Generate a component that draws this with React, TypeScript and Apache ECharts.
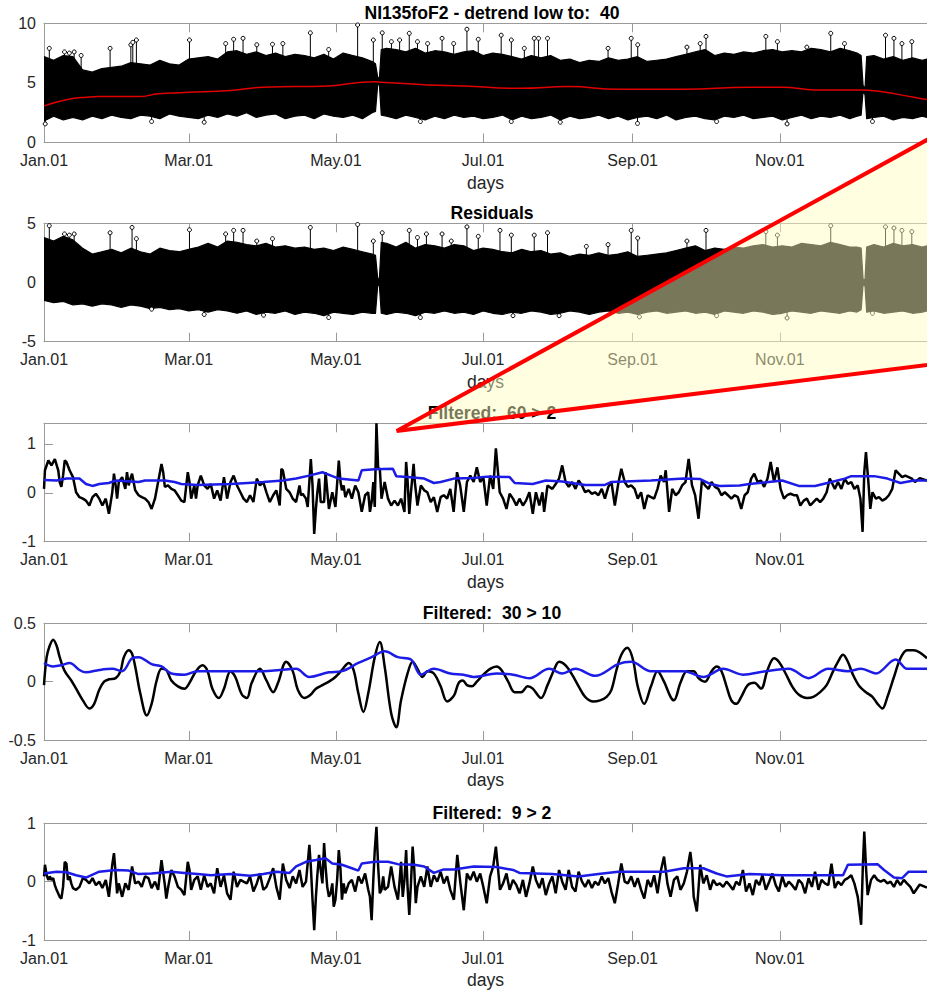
import React, { useEffect, useRef } from 'react';
import * as echarts from 'echarts';

// ---------- data (day of year, leap year) ----------
const MONTH_TICKS = [0, 60, 121, 182, 244, 305];
const MONTH_LABELS = ['Jan.01', 'Mar.01', 'May.01', 'Jul.01', 'Sep.01', 'Nov.01'];

const TITLES = [
  'NI135foF2 - detrend low to:  40',
  'Residuals',
  'Filtered:  60 > 2',
  'Filtered:  30 > 10',
  'Filtered:  9 > 2',
];
const Y_RANGES = [[0, 10], [-5, 5], [-1, 1.42], [-0.5, 0.5], [-1, 1]];
const Y_TICKS = [[0, 5, 10], [-5, 0, 5], [-1, 0, 1], [-0.5, 0, 0.5], [-1, 0, 1]];

// hourly foF2: envelope of the dense trace [day, low, high]
const p1Env = [
  [0,1.8,7.2],[4,2.2,6.9],[8,1.9,7.3],[12,2.1,7.2],[16,1.9,6.1],[20,2.2,5.9],[24,2.0,6.2],[28,2.3,6.3],[32,2.1,6.4],[36,2.0,6.7],[40,2.3,6.6],[44,2.2,6.5],[48,2.0,6.9],[52,2.4,6.6],[56,2.2,6.5],[60,2.1,7.0],[64,2.0,7.1],[68,2.3,7.2],[72,2.1,7.0],[76,2.4,7.6],[80,2.2,7.7],[84,2.5,7.4],[88,2.1,7.6],[92,2.3,7.3],[96,2.4,7.5],[100,2.0,7.2],[104,2.2,7.4],[108,2.3,7.3],[112,2.0,7.1],[116,2.4,7.4],[120,2.2,7.0],[124,2.1,7.5],[128,2.3,7.3],[132,2.0,7.1],[136,2.5,6.8],[137.4,2.6,6.6],[138.3,4.8,5.5],[139.0,4.9,5.3],[139.8,2.3,7.8],[142,2.2,7.9],[146,2.0,7.8],[150,2.3,7.6],[154,2.1,7.9],[158,1.9,7.5],[162,2.2,7.7],[166,2.0,7.6],[170,2.3,7.4],[174,2.1,7.6],[178,2.2,7.7],[182,2.0,7.3],[186,2.1,7.5],[190,2.3,7.4],[194,1.9,7.2],[198,2.2,7.0],[202,2.0,7.3],[206,2.1,7.1],[210,2.3,7.3],[214,1.9,6.9],[218,2.2,7.0],[222,2.0,6.7],[226,2.1,6.9],[230,2.3,6.8],[234,2.0,7.1],[238,2.2,6.9],[242,1.9,7.0],[246,2.1,7.2],[250,2.2,6.8],[254,2.0,6.9],[258,2.3,7.0],[262,1.9,7.2],[266,2.1,7.4],[270,2.2,7.6],[274,2.0,7.8],[278,1.9,7.3],[282,2.2,7.5],[286,2.1,7.4],[290,2.3,7.6],[294,2.0,7.5],[298,2.1,7.7],[302,2.2,7.8],[306,1.9,7.6],[310,2.1,7.7],[314,2.3,7.6],[318,2.0,7.9],[322,2.2,7.8],[326,2.1,7.6],[330,2.3,7.9],[334,2.0,7.7],[337,2.2,7.5],[338.7,2.3,7.3],[339.5,4.3,4.8],[340.3,4.0,4.5],[341,2.0,7.2],[344,2.1,7.3],[348,2.2,7.0],[352,1.9,7.2],[356,2.1,6.9],[360,2.0,7.1],[364,2.2,6.9],[366,2.1,7.0],
];
const p1Spikes = [
  [2.2,7.9],[8.5,7.6],[10.5,7.5],[12.5,7.6],[15.4,7.3],[27.4,7.9],[36.0,8.2],[36.8,8.4],[38.3,8.6],[60.3,8.6],[75.3,8.3],[78.6,8.66],[82.5,8.74],[88.2,8.2],[94.7,8.24],[99,8.3],[110.4,9.2],[118,7.8],[130,9.86],[136.5,8.6],[140.2,9.2],[144,8.46],[147.4,8.6],[151.4,9.16],[154.8,8.46],[159,8.3],[165,8.74],[169.8,8.3],[175.3,9.5],[180,8.66],[189.5,9.0],[193.7,8.6],[199.1,7.9],[203.2,8.74],[205,8.74],[208.7,8.74],[233.8,7.9],[243.4,8.74],[246.1,8.2],[266.5,8.0],[272,8.3],[274.4,8.9],[299.2,8.9],[304,8.46],[316.2,8.0],[326.1,9.16],[331.8,8.3],[348.8,9.0],[352.3,8.74],[355.6,8.3],[359.7,8.46],
];
const p1Dips = [
  [0.5,1.56],[44.6,1.76],[66.4,1.7],[156,1.76],[193.7,1.76],[214,1.7],[246,1.6],[278.8,1.76],[308,1.56],[343.4,1.76],
];
const p1Trend = [
  [0,3.07],[9.3,3.58],[17.4,3.8],[22.9,3.85],[39.2,3.85],[47.4,4.08],[58.3,4.19],[77.3,4.36],[90.9,4.64],[118.1,4.75],[131.8,5.06],[137.2,5.1],[139.9,5.06],[159,4.83],[174,4.75],[197,4.55],[217.6,4.69],[238,4.47],[265,4.47],[292.4,4.64],[306,4.64],[319.7,4.41],[338.5,4.41],[346.7,4.27],[360.5,3.8],[366,3.6],
];

// residuals envelope [day, low, high]
const p2Env = [
  [0,-1.5,3.8],[4,-1.7,3.5],[8,-1.6,3.9],[12,-1.9,3.6],[16,-1.8,2.9],[20,-2.0,2.4],[24,-1.8,2.6],[28,-1.9,2.8],[32,-2.1,2.5],[36,-1.9,2.9],[40,-2.0,2.6],[44,-2.2,2.4],[48,-2.1,2.9],[52,-2.3,2.7],[56,-2.2,2.6],[60,-2.4,2.8],[64,-2.3,3.0],[68,-2.5,3.3],[72,-2.3,3.0],[76,-2.4,3.5],[80,-2.6,3.4],[84,-2.4,3.2],[88,-2.7,3.1],[92,-2.5,3.3],[96,-2.6,3.0],[100,-2.4,3.1],[104,-2.7,2.9],[108,-2.5,3.0],[112,-2.6,2.8],[116,-2.8,2.9],[120,-2.5,2.7],[124,-2.6,3.0],[128,-2.7,2.8],[132,-2.5,2.6],[136,-2.6,2.4],[137.4,-2.6,2.3],[138.3,-0.3,0.4],[139.0,-0.2,0.2],[139.8,-2.6,3.4],[142,-2.7,3.3],[146,-2.5,3.0],[150,-2.6,3.4],[154,-2.8,2.9],[158,-2.5,3.2],[162,-2.6,3.1],[166,-2.4,2.9],[170,-2.6,3.2],[174,-2.5,3.1],[178,-2.7,2.7],[182,-2.4,2.9],[186,-2.6,2.8],[190,-2.7,2.6],[194,-2.5,2.5],[198,-2.6,2.8],[202,-2.4,2.6],[206,-2.5,2.7],[210,-2.7,2.4],[214,-2.6,2.5],[218,-2.4,2.2],[222,-2.5,2.4],[226,-2.7,2.3],[230,-2.5,2.5],[234,-2.4,2.3],[238,-2.6,2.4],[242,-2.5,2.6],[246,-2.7,2.2],[250,-2.5,2.3],[254,-2.4,2.4],[258,-2.6,2.5],[262,-2.5,2.7],[266,-2.4,2.9],[270,-2.6,3.1],[274,-2.5,2.7],[278,-2.7,2.9],[282,-2.4,2.8],[286,-2.5,3.0],[290,-2.6,2.9],[294,-2.4,3.1],[298,-2.5,3.2],[302,-2.7,3.0],[306,-2.6,3.1],[310,-2.4,3.0],[314,-2.5,3.3],[318,-2.6,3.2],[322,-2.4,3.1],[326,-2.5,3.4],[330,-2.6,3.2],[334,-2.4,3.0],[337,-2.5,3.0],[338.7,-2.3,2.9],[339.5,-0.2,0.3],[340.3,-0.3,0.2],[341,-2.5,3.0],[344,-2.4,3.2],[348,-2.6,3.0],[352,-2.5,3.3],[356,-2.4,3.1],[360,-2.6,3.2],[364,-2.5,3.0],[366,-2.4,3.1],
];
const p2Spikes = [
  [2.2,4.8],[8.5,4.1],[10.5,4.0],[12.5,4.1],[27.4,4.2],[36.5,4.65],[38.3,3.7],[60.3,4.45],[75.3,4.1],[78.6,4.4],[82.5,4.4],[88.2,3.5],[94.7,3.7],[110.4,4.65],[130,4.9],[136.5,3.5],[140.2,4.2],[151.4,4.4],[154.8,3.8],[158.5,4.1],[165,4.1],[168.8,3.5],[175.3,4.7],[180,3.9],[189,4.4],[193.7,4.0],[203.2,4.0],[208.7,4.2],[224.8,3.05],[233.8,3.2],[243.4,4.4],[246.1,3.75],[266.5,3.5],[274.4,4.4],[299.2,4.3],[304,4.0],[326.1,4.8],[348.8,4.7],[352.3,4.6],[355.6,4.4],[359.7,4.3],
];
const p2Dips = [
  [44.6,-2.25],[66.4,-2.7],[91,-2.76],[118,-2.96],[156,-2.96],[194.4,-2.8],[213.5,-2.8],[246.8,-2.9],[278.8,-2.8],[308,-3.0],[343.4,-2.6],
];

// Filtered 60 > 2
const f60Black = [
  [0,0.08],[0.4,0.46],[1.8,0.66],[3.1,0.56],[4.5,0.69],[5.9,0.46],[6.5,0.22],[7.2,0.12],[7.9,0.35],[8.6,0.66],[9.3,0.63],[10.6,0.46],[12.0,0.32],[13.3,0.01],[14.7,-0.09],[16.1,-0.12],[17.4,-0.16],[18.8,-0.26],[20.1,-0.09],[21.5,-0.02],[22.9,-0.12],[24.2,-0.26],[25.6,-0.12],[26.9,-0.43],[28.3,0.01],[29.0,0.39],[29.7,0.15],[30.3,-0.12],[31.0,0.22],[32.4,0.32],[33.7,0.08],[34.4,0.42],[35.1,0.15],[35.8,0.29],[36.5,0.39],[37.8,0.05],[39.2,-0.05],[40.5,-0.09],[41.9,-0.12],[43.3,-0.19],[44.6,-0.33],[46.0,-0.12],[47.3,0.22],[48.7,0.59],[49.4,0.42],[50.1,0.12],[51.4,0.15],[52.8,0.08],[54.1,0.05],[55.5,-0.05],[56.9,-0.16],[58.2,-0.19],[59.6,0.42],[60.3,0.22],[61.0,-0.12],[62.3,0.15],[63.0,-0.12],[63.7,0.15],[65.0,0.35],[66.4,0.15],[67.8,0.08],[69.1,0.18],[70.5,-0.12],[71.8,0.05],[73.2,-0.16],[74.6,0.32],[75.9,-0.12],[77.3,0.22],[78.6,0.35],[80.0,0.15],[81.4,0.01],[82.7,-0.12],[84.1,-0.19],[85.4,-0.05],[86.8,-0.19],[88.2,0.29],[89.5,0.15],[90.9,0.22],[92.2,0.01],[93.6,-0.19],[95.0,-0.05],[96.3,0.05],[97.7,-0.26],[98.4,0.49],[99.0,0.46],[100.4,0.08],[101.8,0.01],[103.1,-0.12],[104.5,-0.19],[105.9,0.15],[106.5,-0.05],[107.2,-0.02],[108.6,-0.12],[109.3,-0.29],[110.6,0.69],[111.3,0.15],[112.0,-0.84],[112.7,-0.33],[113.3,0.01],[114.0,0.29],[114.7,-0.19],[116.1,-0.19],[116.7,0.42],[118.1,-0.33],[119.5,0.01],[120.8,-0.29],[122.2,0.66],[122.9,0.22],[123.5,0.05],[124.2,0.15],[124.9,-0.09],[126.3,0.08],[127.6,-0.12],[129.0,0.15],[130.3,0.01],[131.7,-0.39],[133.1,-0.05],[134.4,0.01],[135.1,-0.39],[135.8,-0.19],[136.5,0.22],[137.1,-0.29],[137.8,1.42],[138.5,0.5],[139.2,0.49],[139.9,-0.12],[141.2,0.22],[142.6,-0.12],[143.9,-0.26],[145.3,-0.16],[146.7,-0.26],[148.0,-0.12],[149.4,-0.39],[150.1,0.63],[150.7,0.25],[151.4,-0.43],[152.1,0.01],[153.2,0.59],[153.7,0.22],[154.8,-0.26],[156.2,0.15],[157.6,0.05],[158.9,0.01],[160.3,-0.19],[161.6,-0.09],[163.0,-0.39],[164.4,-0.09],[165.7,-0.05],[167.1,-0.12],[168.4,0.08],[169.8,-0.39],[171.2,0.42],[172.5,0.15],[174.0,-0.39],[175.3,0.22],[176.7,0.35],[178.1,0.22],[179.4,0.52],[180.8,0.22],[182.1,0.32],[183.5,-0.26],[184.9,0.35],[186.2,0.08],[187.3,0.91],[188.3,0.35],[188.9,0.01],[190.3,-0.12],[191.7,-0.33],[193.0,-0.02],[194.4,-0.12],[195.8,-0.26],[197.1,-0.12],[198.5,-0.26],[199.8,-0.16],[201.2,0.01],[202.6,-0.43],[203.9,0.01],[205.3,-0.26],[206.6,0.01],[207.3,-0.39],[208.7,0.15],[210.7,0.08],[212.1,0.18],[213.5,0.29],[214.8,0.56],[216.2,0.22],[217.5,0.12],[218.9,0.22],[220.3,0.08],[221.6,0.25],[223.0,0.15],[224.3,0.01],[225.7,0.05],[227.1,-0.02],[228.4,0.01],[229.8,-0.05],[231.2,0.08],[232.5,-0.12],[233.9,0.12],[235.2,0.22],[236.6,-0.26],[238.0,0.18],[239.3,0.49],[240.7,0.22],[242.0,0.12],[243.4,0.15],[244.8,0.08],[246.1,-0.12],[247.5,0.01],[248.8,-0.33],[250.2,-0.05],[251.6,-0.09],[252.9,-0.12],[254.3,0.08],[255.6,0.35],[257.0,0.22],[257.7,0.46],[259.1,-0.39],[260.4,0.08],[261.8,-0.05],[263.1,0.01],[264.5,0.15],[265.9,0.22],[267.2,0.69],[268.6,0.15],[269.9,-0.05],[271.3,-0.53],[272.7,0.25],[274.0,0.15],[275.4,0.08],[276.7,0.22],[278.1,0.12],[279.5,0.08],[280.8,-0.05],[282.2,0.01],[283.5,-0.05],[284.9,-0.12],[286.3,-0.05],[287.6,-0.09],[289.0,-0.33],[290.4,-0.05],[291.7,0.01],[293.1,0.29],[294.4,0.39],[295.8,0.22],[297.2,0.25],[298.5,0.12],[299.9,0.29],[301.2,0.63],[302.6,0.22],[304.0,0.52],[305.3,0.08],[306.7,-0.12],[308.0,-0.05],[309.4,-0.02],[310.8,-0.05],[312.1,-0.05],[313.5,-0.26],[314.9,-0.16],[316.2,-0.12],[317.6,-0.26],[318.9,-0.19],[320.3,-0.12],[321.7,-0.19],[323.0,-0.12],[324.4,0.01],[325.7,0.29],[326.4,0.22],[327.8,0.08],[329.1,0.22],[330.5,0.08],[331.9,0.29],[333.2,0.18],[334.6,0.22],[335.9,0.08],[337.3,0.15],[338.4,-0.12],[339.3,-0.8],[340.0,0.42],[340.7,0.83],[341.7,0.22],[342.5,-0.33],[343.4,0.01],[344.8,-0.12],[346.1,-0.09],[347.5,-0.16],[348.9,-0.12],[350.2,-0.05],[351.6,0.08],[353.0,0.46],[354.3,0.39],[355.7,0.32],[357.0,0.35],[358.4,0.32],[359.7,0.29],[361.0,0.22],[363,0.3],[366,0.25],
];
const f60Blue = [
  [0,0.26],[5.2,0.25],[9.3,0.29],[14.7,0.29],[17.4,0.18],[20.1,0.14],[22.9,0.18],[26.9,0.2],[29.7,0.25],[39.2,0.22],[41.9,0.25],[50.1,0.25],[54.1,0.22],[56.9,0.18],[63.7,0.16],[77.3,0.18],[90.9,0.22],[99,0.25],[104.5,0.29],[109.9,0.35],[115.4,0.42],[119.5,0.34],[122.2,0.29],[130.3,0.25],[131.7,0.46],[137.1,0.48],[144.6,0.49],[146,0.34],[150.7,0.32],[157.6,0.29],[161.6,0.2],[164.4,0.22],[169.9,0.29],[178.1,0.3],[183.5,0.33],[193.0,0.32],[195.1,0.2],[202.6,0.18],[208,0.25],[214.8,0.23],[224.3,0.16],[232.5,0.16],[235.2,0.22],[251.6,0.25],[265.2,0.29],[272,0.28],[276.1,0.18],[280.1,0.14],[288.3,0.15],[292.4,0.18],[306,0.25],[312.8,0.14],[319.6,0.14],[326.4,0.22],[331.9,0.29],[334.6,0.34],[344.1,0.34],[349.6,0.29],[355,0.2],[360.5,0.25],[366,0.25],
];

// Filtered 30 > 10
const f30Black = [
  [0,-0.03],[1.1,0.21],[2.4,0.31],[3.8,0.36],[5.2,0.31],[6.5,0.21],[8.6,0.09],[11.3,0.01],[13.3,-0.06],[16.1,-0.16],[18.8,-0.23],[20.8,-0.19],[22.9,-0.07],[24.9,0],[26.9,0.02],[29.7,0.03],[31.7,0.09],[33.1,0.21],[35.1,0.27],[36.5,0.24],[37.8,0.13],[39.9,-0.1],[42.6,-0.29],[44.6,-0.19],[46.7,0.01],[48.7,0.11],[50.7,0.1],[52.8,0.01],[55.5,-0.04],[58.2,-0.06],[60.3,-0.01],[63.0,0.09],[65.7,0.14],[67.8,0.09],[69.8,-0.06],[72.5,-0.14],[74.6,-0.06],[77.3,0.09],[79.3,0.04],[82.0,-0.11],[84.1,-0.14],[86.1,-0.01],[89.5,0.11],[92.2,0.01],[95.0,-0.09],[97.0,-0.01],[100.4,0.17],[103.1,0.09],[105.2,-0.07],[107.9,-0.14],[110.6,-0.11],[112.7,-0.06],[115.4,-0.03],[118.1,0],[120.8,0.04],[123.5,0.1],[126.3,0.16],[128.3,0.1],[130.3,-0.1],[132.4,-0.26],[134.4,-0.1],[137.1,0.21],[139.2,0.34],[141.2,0.13],[143.9,-0.27],[146.0,-0.39],[148.0,-0.16],[150.7,0.07],[152.8,0.17],[154.8,0.11],[156.9,0.04],[158.9,0.09],[161.6,0.07],[164.4,-0.04],[167.1,-0.17],[169.9,-0.12],[171.9,-0.01],[173.6,0.01],[175.3,-0.03],[177.4,-0.04],[179.4,0],[182.1,0.06],[184.9,0.11],[187.6,0.13],[189.6,0.1],[192.4,0],[195.1,-0.09],[197.8,-0.09],[200.5,-0.04],[202.6,-0.06],[206.0,-0.14],[208.7,-0.03],[211.4,0.1],[213.5,0.17],[216.2,0.14],[218.9,0.06],[221.6,-0.04],[224.3,-0.13],[227.7,-0.17],[230.5,-0.16],[233.2,-0.13],[235.2,-0.07],[237.3,0.1],[239.3,0.23],[241.8,0.29],[244.1,0.19],[246.1,-0.04],[248.8,-0.19],[251.6,-0.04],[254.3,0.09],[257.0,0],[259.7,-0.13],[261.1,-0.16],[263.8,-0.01],[266.5,0.09],[269.3,0.09],[271.3,0.03],[274.0,0],[276.7,0.09],[278.8,0.13],[280.8,0.09],[282.9,-0.04],[284.9,-0.16],[287.0,-0.19],[289.0,-0.13],[291.7,-0.03],[294.4,-0.01],[297.2,-0.06],[299.9,0.1],[302.6,0.2],[304.6,0.17],[307.4,0.07],[310.1,-0.04],[312.8,-0.11],[316.2,-0.14],[318.9,-0.13],[321.7,-0.09],[324.4,-0.03],[327.1,0.09],[329.1,0.17],[331.2,0.23],[333.2,0.17],[335.3,0.06],[338.0,-0.04],[340.7,-0.09],[343.4,-0.13],[345.5,-0.19],[347.5,-0.23],[349.6,-0.13],[352.3,0.04],[355.0,0.2],[357.7,0.27],[360.5,0.27],[366,0.2],
];
const f30Blue = [
  [0,0.16],[3.8,0.13],[7.2,0.14],[10.6,0.16],[14.7,0.1],[17.4,0.08],[22.9,0.1],[28.3,0.11],[32.4,0.09],[36.5,0.2],[39.2,0.21],[44.6,0.15],[48.7,0.13],[52.8,0.07],[58.2,0.06],[63.7,0.09],[77.3,0.09],[90.9,0.09],[97.7,0.1],[104.5,0.11],[109.9,0.04],[118.1,0.08],[123.5,0.09],[130.3,0.16],[135.8,0.21],[141.2,0.26],[146.7,0.21],[152.1,0.19],[156.2,0.06],[161.6,0.11],[168.4,0.07],[173.9,0.06],[178.1,0.04],[187.6,0.07],[194.4,0.06],[201.2,0.03],[209.4,0.11],[214.8,0.07],[220.3,0.11],[228.4,0.05],[238.0,0.15],[243.4,0.17],[251.6,0.09],[265.2,0.09],[273.3,0.04],[281.5,0.11],[289.7,0.06],[299.2,0.09],[308.7,0.11],[316.9,0.03],[325.1,0.11],[333.2,0.09],[338.7,0.11],[344.8,0.07],[353.0,0.19],[357.7,0.11],[360.5,0.11],[366,0.11],
];

// Filtered 9 > 2
const f9Black = [
  [0,0.09],[0.4,0.29],[1.1,0.11],[1.8,0.03],[2.4,0.09],[3.1,0.03],[3.8,0.06],[4.5,-0.06],[5.2,-0.14],[6.5,-0.26],[7.2,-0.29],[7.9,-0.09],[8.6,0.34],[9.3,0.31],[9.9,0.03],[10.6,0.09],[11.3,-0.03],[12.0,-0.11],[13.3,-0.14],[14.7,-0.09],[16.1,0.06],[17.4,0.03],[18.8,-0.03],[20.1,0.06],[21.5,-0.06],[22.9,0],[24.2,-0.11],[25.6,0.03],[26.9,-0.26],[28.3,0.29],[29.0,0.49],[29.7,0.14],[30.3,-0.2],[31.0,-0.03],[32.4,-0.26],[33.7,-0.03],[35.1,-0.14],[36.5,0.26],[37.8,-0.03],[39.2,0],[40.5,-0.09],[41.9,0.09],[43.3,0.06],[44.6,-0.11],[46.0,0],[47.3,-0.14],[48.7,0.37],[50.1,-0.06],[50.7,-0.29],[51.4,-0.11],[52.8,0.2],[54.1,0.09],[55.5,-0.09],[56.9,-0.14],[58.2,-0.23],[59.6,0.34],[60.3,0.2],[61.0,-0.14],[62.3,0.03],[63.7,0.09],[65.0,-0.14],[66.4,0.11],[67.8,-0.09],[69.1,-0.03],[70.5,-0.2],[71.8,0.23],[73.2,-0.09],[74.6,0.11],[75.9,-0.2],[77.3,-0.31],[78.6,0.17],[80.0,-0.09],[81.4,0.03],[82.7,0],[84.1,-0.03],[85.4,0.09],[86.8,-0.17],[88.2,-0.03],[89.5,0.14],[90.9,-0.14],[92.2,-0.09],[93.6,0.06],[95.0,0.23],[96.3,-0.09],[97.7,-0.31],[99.0,0.31],[100.4,0.03],[101.8,-0.11],[103.1,0.09],[104.5,-0.03],[105.9,0.2],[107.2,-0.09],[108.6,0],[110.0,0.63],[110.6,0.26],[111.3,-0.31],[112.0,-0.83],[112.7,-0.26],[113.3,0.11],[114.0,0.46],[114.7,0.2],[115.4,-0.03],[116.1,0.66],[116.7,0.26],[117.4,-0.09],[118.1,-0.26],[118.8,-0.2],[119.5,-0.03],[120.1,-0.43],[120.8,-0.31],[121.5,0.03],[122.2,0.54],[122.9,0.2],[123.5,-0.31],[124.2,-0.03],[124.9,-0.2],[126.3,-0.03],[127.6,0.03],[129.0,-0.17],[130.3,0.09],[131.7,-0.03],[133.1,0.14],[134.4,-0.14],[135.1,-0.26],[135.8,-0.66],[136.5,0.03],[137.1,0.54],[137.8,0.94],[138.5,0.26],[139.2,-0.2],[139.9,-0.14],[140.6,0.09],[141.2,-0.14],[142.6,-0.09],[143.9,0.26],[145.3,-0.09],[146.7,-0.31],[147.3,-0.03],[148.0,0.34],[148.7,-0.26],[149.4,0.03],[150.1,0.54],[150.7,-0.09],[151.4,-0.57],[152.1,-0.03],[152.8,0.6],[153.5,0.2],[154.1,-0.37],[154.8,-0.09],[156.2,0.09],[157.6,-0.09],[158.9,0.26],[160.3,-0.09],[161.6,0.11],[163.0,0],[164.4,0.17],[165.7,-0.03],[167.1,0.09],[168.4,-0.14],[169.9,-0.31],[171.3,0.46],[172.6,-0.03],[174.0,-0.49],[175.3,0.14],[176.7,0.03],[178.1,0.17],[179.4,0],[180.8,0.14],[182.1,-0.09],[183.5,-0.37],[184.9,0.09],[186.2,0.26],[187.3,0.6],[188.3,0.17],[189.0,-0.14],[190.3,-0.03],[191.7,0.14],[193.0,-0.14],[194.4,0.03],[195.8,-0.06],[197.1,-0.2],[198.5,0.03],[199.8,-0.26],[201.2,-0.03],[202.6,0.26],[203.9,0.03],[205.3,-0.11],[206.6,0.06],[208.0,-0.23],[209.4,-0.03],[210.7,0.09],[212.1,-0.2],[213.5,0.2],[214.8,0],[216.2,-0.14],[217.5,0.2],[218.9,-0.09],[220.3,-0.17],[221.6,0.17],[223.0,0],[224.3,-0.09],[225.7,0.03],[227.1,-0.11],[228.4,0],[229.8,-0.06],[231.2,0.09],[232.5,-0.03],[233.9,0.06],[235.2,-0.17],[236.6,-0.37],[238.0,-0.03],[239.3,0.31],[240.7,0],[242.0,-0.03],[243.4,0.09],[244.8,-0.09],[246.1,0.06],[247.5,-0.14],[248.8,-0.29],[250.2,0.03],[251.6,-0.09],[252.9,0.11],[254.3,-0.2],[255.6,0.17],[257.0,0.43],[258.4,-0.03],[259.7,-0.26],[261.1,0.03],[262.5,0.09],[263.8,-0.14],[265.2,-0.03],[266.5,0.17],[267.9,0.51],[268.6,0.26],[269.3,-0.26],[270.6,-0.51],[272.0,0.29],[273.3,-0.03],[274.7,0.11],[276.1,-0.14],[277.4,0.03],[278.8,-0.06],[280.1,-0.03],[281.5,-0.09],[282.9,0],[284.2,-0.06],[285.6,-0.14],[286.9,0],[288.3,-0.06],[289.7,0.2],[291.0,-0.17],[292.4,-0.03],[293.8,-0.23],[295.1,0.03],[296.5,-0.06],[297.8,0.11],[299.2,-0.14],[300.6,0],[301.9,0.14],[303.3,-0.06],[304.6,-0.17],[306.0,0.09],[307.4,-0.09],[308.7,0],[310.1,-0.06],[311.5,-0.14],[312.8,0.03],[314.2,-0.03],[315.5,-0.2],[316.9,0.06],[318.3,-0.09],[319.6,0.17],[321.0,-0.14],[322.3,0.03],[323.7,-0.03],[325.1,-0.06],[326.4,0.31],[327.8,-0.11],[329.1,0],[330.5,-0.06],[331.9,0.03],[333.2,0.06],[334.6,0.11],[335.9,-0.03],[337.3,-0.26],[338.7,-0.74],[339.4,0.26],[340.0,0.86],[340.7,0.26],[341.4,-0.23],[342.8,0.03],[344.1,0.11],[345.5,0.03],[346.8,0],[348.2,0.03],[349.6,-0.03],[350.9,0],[352.3,-0.09],[353.6,0.03],[355.0,-0.06],[356.4,0.03],[357.7,-0.03],[359.1,-0.09],[360.5,-0.2],[363,-0.05],[366,-0.1],
];
const f9Blue = [
  [0,0.14],[5.2,0.17],[9.3,0.16],[13.3,0.11],[17.4,0.07],[22.9,0.17],[29.7,0.2],[35.1,0.19],[39.2,0.13],[44.6,0.14],[52.8,0.17],[58.2,0.15],[63.7,0.13],[69.1,0.11],[77.3,0.13],[85.4,0.1],[90.9,0.13],[96.3,0.17],[101.8,0.15],[104.5,0.26],[108.6,0.34],[112.7,0.37],[116.7,0.4],[119.5,0.31],[123.5,0.29],[127.6,0.23],[130.3,0.19],[131.7,0.31],[137.1,0.34],[142.6,0.34],[146.7,0.3],[153.5,0.29],[157.6,0.26],[161.6,0.15],[165.7,0.21],[169.9,0.21],[178.1,0.26],[187.6,0.25],[194.4,0.2],[197.1,0.15],[210.7,0.13],[221.6,0.09],[229.8,0.13],[238,0.17],[257,0.17],[265.2,0.23],[273.3,0.23],[278.8,0.14],[282.9,0.09],[292.4,0.13],[306,0.11],[319.6,0.11],[331.2,0.11],[333.2,0.29],[345.5,0.3],[348.2,0.2],[352.3,0.07],[355.7,0.06],[358.4,0.17],[366,0.17],
];

// ---------- styling / layout ----------
const FONT = '"Liberation Sans", Arial, Helvetica, sans-serif';
const AXIS_GREY = '#9a9a9a';
const LABEL = '#262626';
const BLUE = '#1c1ce6';
const GRID_LEFT = 44;
const GRID_WIDTH = 896;
const GRID_TOPS = [23.3, 223.3, 423.3, 623.3, 823.3];
const GRID_HEIGHTS = [119.2, 118.4, 118.4, 116.7, 116.7];

function spikeRender(params: any, api: any) {
  const top = api.coord([api.value(0), api.value(1)]);
  const base = api.coord([api.value(0), api.value(2)]);
  return {
    type: 'group',
    children: [
      { type: 'line', shape: { x1: base[0], y1: base[1], x2: top[0], y2: top[1] }, style: { stroke: '#000', lineWidth: 1 } },
      { type: 'circle', shape: { cx: top[0], cy: top[1], r: 2 }, style: { fill: '#fff', stroke: '#000', lineWidth: 1 } },
    ],
  };
}

function bandSeries(idx: number, env: number[][]) {
  return {
    type: 'custom', xAxisIndex: idx, yAxisIndex: idx, z: 2, clip: true,
    data: [[env[0][0], env[0][1]]],
    renderItem: (params: any, api: any) => {
      const upper = env.map((e) => api.coord([e[0], e[2]]));
      const lower = env.map((e) => api.coord([e[0], e[1]])).reverse();
      return {
        type: 'polygon',
        shape: { points: upper.concat(lower) },
        style: { fill: '#000', stroke: '#000', lineWidth: 1.2, lineJoin: 'round' },
      };
    },
  };
}

function spikeSeries(idx: number, pts: number[][], base: number) {
  return {
    type: 'custom', xAxisIndex: idx, yAxisIndex: idx, renderItem: spikeRender,
    data: pts.map((p) => [p[0], p[1], base]), z: 3,
  };
}

function lineSeries(idx: number, pts: number[][], color: string, width: number, smooth: any, z: number) {
  return {
    type: 'line', xAxisIndex: idx, yAxisIndex: idx, data: pts, showSymbol: false, smooth,
    lineStyle: { color, width }, z,
  };
}

export default function App() {
  const ref = useRef<HTMLDivElement>(null);
  useEffect(() => {
    if (!ref.current) return;
    const chart = echarts.init(ref.current, null, { renderer: 'svg' });
    const grids = GRID_TOPS.map((t, i) => ({ left: GRID_LEFT, top: t, width: GRID_WIDTH, height: GRID_HEIGHTS[i] }));
    const bottomX = GRID_TOPS.map((_, i) => ({
      type: 'value', gridIndex: i, min: 0, max: 366, position: 'bottom',
      axisLine: { show: true, onZero: false, lineStyle: { color: AXIS_GREY, width: 1 } },
      axisTick: { show: true, inside: true, length: 9, customValues: MONTH_TICKS, lineStyle: { color: AXIS_GREY } },
      axisLabel: {
        show: true, customValues: MONTH_TICKS, margin: 10, fontSize: 16, color: LABEL, fontFamily: FONT,
        formatter: (v: number) => { const k = MONTH_TICKS.indexOf(v); return k >= 0 ? MONTH_LABELS[k] : ''; },
      },
      splitLine: { show: false },
      name: 'days', nameLocation: 'middle', nameGap: 31,
      nameTextStyle: { fontSize: 17.6, color: LABEL, fontFamily: FONT },
    }));
    const topX = GRID_TOPS.map((_, i) => ({
      type: 'value', gridIndex: i, min: 0, max: 366, position: 'top',
      axisLine: { show: true, onZero: false, lineStyle: { color: AXIS_GREY, width: 1 } },
      axisTick: { show: true, inside: true, length: 9, customValues: MONTH_TICKS, lineStyle: { color: AXIS_GREY } },
      axisLabel: { show: false },
      splitLine: { show: false },
    }));
    const yAxes = Y_RANGES.map((r, i) => ({
      type: 'value', gridIndex: i, min: r[0], max: r[1],
      axisLine: { show: true, onZero: false, lineStyle: { color: AXIS_GREY, width: 1 } },
      axisTick: { show: true, inside: true, length: 9, customValues: Y_TICKS[i], lineStyle: { color: AXIS_GREY } },
      axisLabel: { show: true, customValues: Y_TICKS[i], margin: 8, fontSize: 16, color: LABEL, fontFamily: FONT, formatter: (v: number) => String(v) },
      splitLine: { show: false },
    }));

    const series: any[] = [
      bandSeries(0, p1Env),
      spikeSeries(0, p1Spikes, 5),
      spikeSeries(0, p1Dips, 4),
      lineSeries(0, p1Trend, '#e00000', 1.5, true, 5),
      bandSeries(1, p2Env),
      spikeSeries(1, p2Spikes, 0),
      spikeSeries(1, p2Dips, 0),
      lineSeries(2, f60Black, '#000', 2.5, false, 3),
      lineSeries(2, f60Blue, BLUE, 2.5, false, 4),
      lineSeries(3, f30Black, '#000', 2.5, 0.35, 3),
      lineSeries(3, f30Blue, BLUE, 2.5, 0.35, 4),
      lineSeries(4, f9Black, '#000', 2.5, false, 3),
      lineSeries(4, f9Blue, BLUE, 2.5, false, 4),
    ];

    const titleTexts = TITLES.map((t, i) => ({
      type: 'text', x: GRID_LEFT + GRID_WIDTH / 2, y: GRID_TOPS[i] - 10.5, z: 10,
      style: {
        text: t, fontSize: 17.6, fontWeight: 'bold', fontFamily: FONT, fill: '#000',
        align: 'center', verticalAlign: 'middle', textAlign: 'center', textVerticalAlign: 'middle',
      },
    }));

    chart.setOption({
      animation: false,
      backgroundColor: '#fff',
      grid: grids,
      xAxis: [...bottomX, ...topX],
      yAxis: yAxes,
      series,
      graphic: [
        ...titleTexts,
        {
          type: 'polygon', z: 100,
          shape: { points: [[396.7, 431], [970, 116.3], [970, 359.6]] },
          style: { fill: 'rgba(255,252,190,0.47)', stroke: '#ff0000', lineWidth: 4, lineJoin: 'miter' },
        },
      ],
    });
    return () => chart.dispose();
  }, []);
  return <div ref={ref} style={{ position: 'absolute', left: 0, top: 0, width: 927, height: 993 }} />;
}
